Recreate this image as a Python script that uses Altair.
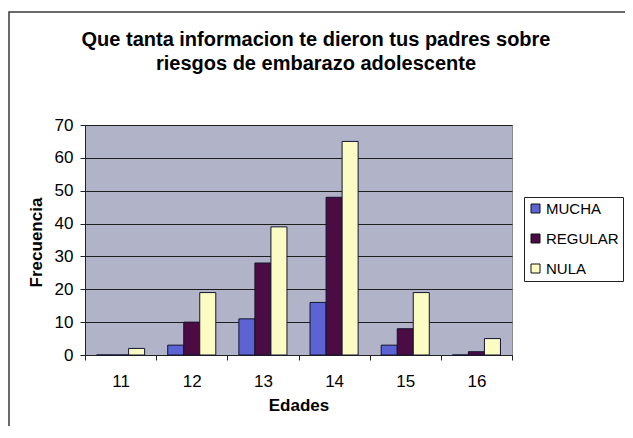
import altair as alt
import pandas as pd

edades = ["11", "12", "13", "14", "15", "16"]
series = ["MUCHA", "REGULAR", "NULA"]
mucha = [0, 3, 11, 16, 3, 0]
regular = [0, 10, 28, 48, 8, 1]
nula = [2, 19, 39, 65, 19, 5]
colores = ["#5c64d4", "#4b0c44", "#fbfbc4"]
y_ticks = [0, 10, 20, 30, 40, 50, 60, 70]
titulo = ["Que tanta informacion te dieron tus padres sobre",
          "riesgos de embarazo adolescente"]

rows = []
for i, e in enumerate(edades):
    for s, vals in zip(series, [mucha, regular, nula]):
        rows.append({"Edades": e, "Serie": s, "Frecuencia": vals[i]})
df = pd.DataFrame(rows)

FONT = "Liberation Sans"

one = pd.DataFrame({"a": [0]})

border = alt.Chart(one).mark_rect(
    fill="transparent", stroke="#3a3a3a", strokeWidth=1.5
).encode(
    x=alt.value(-76), x2=alt.value(800), y=alt.value(-113), y2=alt.value(600)
)

title1 = alt.Chart(one).mark_text(
    font=FONT, fontSize=20, fontWeight="bold", color="black",
    align="center", baseline="alphabetic"
).encode(x=alt.value(231), y=alt.value(-79), text=alt.value(titulo[0]))

title2 = alt.Chart(one).mark_text(
    font=FONT, fontSize=20, fontWeight="bold", color="black",
    align="center", baseline="alphabetic"
).encode(x=alt.value(231), y=alt.value(-55), text=alt.value(titulo[1]))

bars = alt.Chart(df).mark_bar(stroke="#14142e", strokeWidth=1).encode(
    x=alt.X(
        "Edades:N", sort=edades,
        scale=alt.Scale(paddingInner=0, paddingOuter=0),
        axis=alt.Axis(
            title="Edades", labelAngle=0, tickBand="extent", ticks=True,
            tickSize=5, tickColor="#222", domainColor="#222", grid=False,
            labelFontSize=17, labelPadding=13, labelColor="black",
            titleFontSize=17, titleFontWeight="bold", titleColor="black",
            titleBaseline="alphabetic", titleY=55,
        ),
    ),
    xOffset=alt.XOffset(
        "Serie:N", sort=series,
        scale=alt.Scale(paddingOuter=0.72, paddingInner=0),
    ),
    y=alt.Y(
        "Frecuencia:Q",
        scale=alt.Scale(domain=[0, 70], nice=False),
        axis=alt.Axis(
            title="Frecuencia", values=y_ticks, tickSize=5, tickColor="#222",
            domainColor="#222", grid=True, gridColor="#1e1e1e", gridWidth=1.2,
            labelFontSize=17, labelPadding=7, labelColor="black",
            titleFontSize=17, titleFontWeight="bold", titleColor="black",
            titleX=-49, titleY=117, titleAlign="center", titleBaseline="middle",
        ),
    ),
    color=alt.Color(
        "Serie:N", sort=series,
        scale=alt.Scale(domain=series, range=colores),
        legend=alt.Legend(
            title=None, orient="none", legendX=439, legendY=72,
            strokeColor="#222", fillColor="white", padding=4,
            symbolType="square", symbolSize=81, symbolStrokeColor="#111",
            symbolStrokeWidth=1, labelFontSize=15, labelFont=FONT,
            labelColor="black", rowPadding=14, labelOffset=3,
        ),
    ),
)

chart = alt.layer(border, title1, title2, bars).properties(
    width=427,
    height=230,
    autosize=alt.AutoSizeParams(type="none"),
    padding={"left": 77, "top": 117, "right": 113, "bottom": 71},
).configure(font=FONT).configure_view(
    fill="#b1b3c9", stroke="#8a8a8a"
)

chart.save("out.html", embed_options={"renderer": "svg", "actions": False})
